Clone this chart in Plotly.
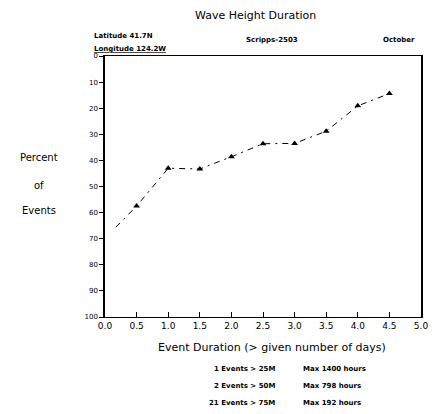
import plotly.graph_objects as go

# event duration (days) vs percent of events
duration_days = [0.5, 1.0, 1.5, 2.0, 2.5, 3.0, 3.5, 4.0, 4.5]
percent_events = [57.5, 43, 43.3, 38.6, 33.6, 33.5, 28.8, 19.1, 14.4]
# the dashed curve runs a little past the first marker
lead_in_x = [0.17]
lead_in_y = [65.6]

x_ticks = [0.0, 0.5, 1.0, 1.5, 2.0, 2.5, 3.0, 3.5, 4.0, 4.5, 5.0]
y_ticks = [0, 10, 20, 30, 40, 50, 60, 70, 80, 90, 100]

event_counts = ['1 Events > 25M', '2 Events > 50M', '21 Events > 75M']
max_hours = ['Max 1400 hours', 'Max 798 hours', 'Max 192 hours']

FONT = 'DejaVu Sans'

fig = go.Figure()
fig.add_trace(go.Scatter(
	x=lead_in_x + duration_days,
	y=lead_in_y + percent_events,
	mode='lines',
	line=dict(color='black', width=1, dash='6px,5px,2px,5px'),
	hoverinfo='skip',
))
fig.add_trace(go.Scatter(
	x=duration_days,
	y=percent_events,
	mode='markers',
	marker=dict(symbol='triangle-up', size=6, color='black'),
))

ann = []
ann.append(dict(text='Wave Height Duration', x=0.475, y=1.156, font=dict(size=11)))
ann.append(dict(text='<b>Latitude 41.7N</b>', x=-0.04, y=1.076, xanchor='left', font=dict(size=7)))
ann.append(dict(text='<b><u>Longitude 124.2W</u></b>', x=-0.04, y=1.027, xanchor='left', font=dict(size=7)))
ann.append(dict(text='<b>Scripps-2503</b>', x=0.528, y=1.061, font=dict(size=7)))
ann.append(dict(text='<b>October</b>', x=0.929, y=1.061, font=dict(size=7)))

for label, yy in zip(['Percent', 'of', 'Events'], [0.611, 0.504, 0.408]):
	ann.append(dict(text=label, x=-0.208, y=yy, font=dict(size=10)))

ann.append(dict(text='Event Duration (> given number of days)', x=0.53, y=-0.118, font=dict(size=11)))

for i, (c, m) in enumerate(zip(event_counts, max_hours)):
	yy = -0.198 - 0.065 * i
	ann.append(dict(text='<b>' + c + '</b>', x=0.543, y=yy, xanchor='right', font=dict(size=7)))
	ann.append(dict(text='<b>' + m + '</b>', x=0.621, y=yy, xanchor='left', font=dict(size=7)))

for a in ann:
	a.setdefault('xanchor', 'center')
	a.update(xref='paper', yref='paper', yanchor='middle', showarrow=False)

fig.update_layout(
	width=440,
	height=414,
	margin=dict(l=105, r=13, t=56, b=97),
	paper_bgcolor='white',
	plot_bgcolor='white',
	showlegend=False,
	font=dict(family=FONT, color='black', size=9),
	annotations=ann,
	xaxis=dict(
		range=[0, 5],
		tickvals=x_ticks,
		ticktext=['%.1f' % v for v in x_ticks],
		ticks='inside',
		ticklen=5,
		tickcolor='black',
		showline=True,
		linecolor='black',
		linewidth=1,
		mirror=True,
		showgrid=False,
		zeroline=False,
		tickfont=dict(size=9),
	),
	yaxis=dict(
		range=[100, 0],
		tickvals=y_ticks,
		ticks='outside',
		ticklen=4,
		tickcolor='black',
		showline=True,
		linecolor='black',
		linewidth=1.5,
		mirror=True,
		showgrid=False,
		zeroline=False,
		tickfont=dict(size=7),
	),
)

# drop the page's default body margin so the figure sits at the window origin
fig.write_html(
	"out.html",
	config={'displayModeBar': False},
	post_script="document.body.style.margin='0';",
)
